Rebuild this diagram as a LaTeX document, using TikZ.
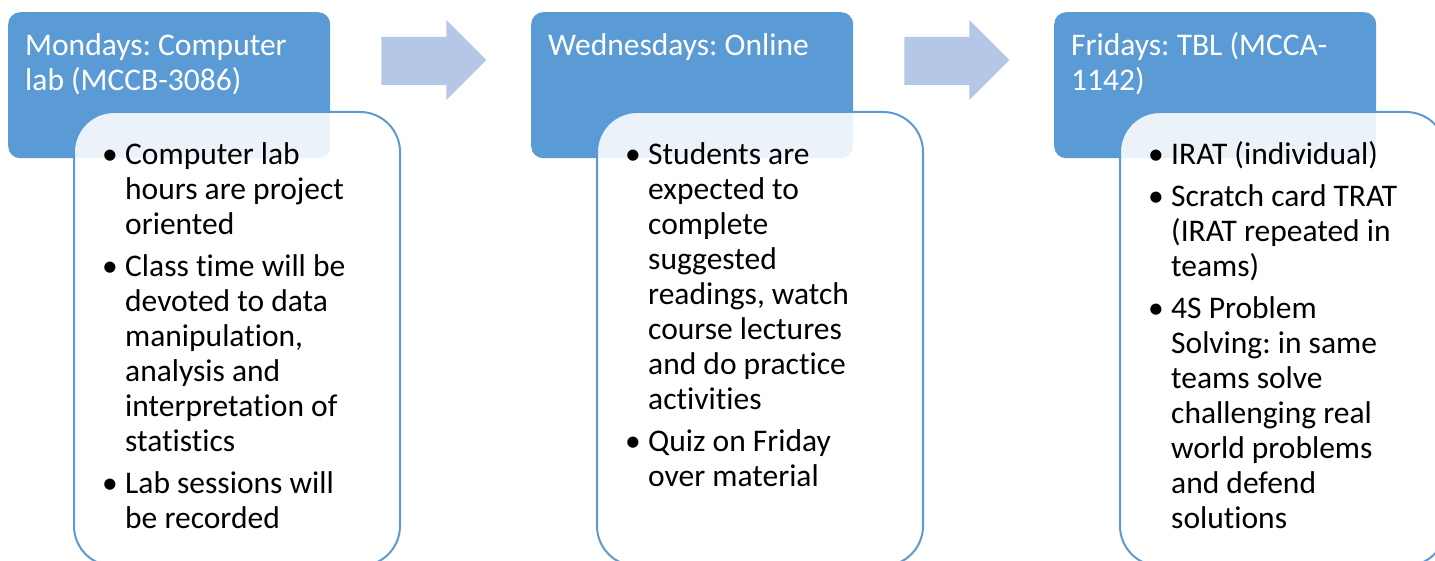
\documentclass[tikz,border=0pt]{standalone}
\usepackage{fontspec}
\setmainfont[Ligatures=NoCommon]{Carlito}
\usetikzlibrary{positioning}
\definecolor{dayblue}{HTML}{5B9BD5}
\definecolor{flowblue}{HTML}{B4C7E7}
\frenchspacing

\begin{document}
\begin{tikzpicture}[x=1pt,y=-1pt]
	\tikzstyle{daybox} = [fill=dayblue, rounded corners=12pt, minimum width=322pt, minimum height=146pt, anchor=north west, inner sep=0pt]
	\tikzstyle{notebox} = [draw=dayblue, line width=2pt, fill=white, fill opacity=0.88, rounded corners=40pt, minimum width=326pt, minimum height=454pt, anchor=north west, inner sep=0pt]
	\tikzstyle{daytext} = [text=white, anchor=north west, inner sep=0pt, font=\fontsize{31.5}{35}\selectfont]
	\tikzstyle{notetext} = [anchor=north west, inner sep=0pt, font=\fontsize{31.5}{35}\selectfont]
	\tikzstyle{flow} = [fill=flowblue]
	\useasboundingbox (0,0) rectangle (1435,561);
	\clip (0,0) rectangle (1435,561);
	% Mondays
	\node[daybox] (mon) at (8,12) {};
	\node[notebox] (monN) at (73,111) {};
	\node[daytext] (monT) at ([xshift=17pt,yshift=-19pt]mon.north west) {\begin{tabular}[t]{@{}l@{}}Mondays: Computer\\ lab (MCCB-3086)\end{tabular}};
	\node[notetext] (monL) at ([xshift=29pt,yshift=-29pt]monN.north west) {\begin{tabular}[t]{@{}p{23pt}@{}l@{}}
	\textbullet & Computer lab\\ & hours are project\\ & oriented\\[7pt]
	\textbullet & Class time will be\\ & devoted to data\\ & manipulation,\\ & analysis and\\ & interpretation of\\ & statistics\\[7pt]
	\textbullet & Lab sessions will\\ & be recorded
	\end{tabular}};
	% Wednesdays
	\node[daybox] (wed) at (531,12) {};
	\node[notebox] (wedN) at (596,111) {};
	\node[daytext] (wedT) at ([xshift=17pt,yshift=-19pt]wed.north west) {\begin{tabular}[t]{@{}l@{}}Wednesdays: Online\end{tabular}};
	\node[notetext] (wedL) at ([xshift=29pt,yshift=-29pt]wedN.north west) {\begin{tabular}[t]{@{}p{23pt}@{}l@{}}
	\textbullet & Students are\\ & expected to\\ & complete\\ & suggested\\ & readings, watch\\ & course lectures\\ & and do practice\\ & activities\\[7pt]
	\textbullet & Quiz on Friday\\ & over material
	\end{tabular}};
	% Fridays
	\node[daybox] (fri) at (1054,12) {};
	\node[notebox] (friN) at (1119,111) {};
	\node[daytext] (friT) at ([xshift=17pt,yshift=-19pt]fri.north west) {\begin{tabular}[t]{@{}l@{}}Fridays: TBL (MCCA-\\ 1142)\end{tabular}};
	\node[notetext] (friL) at ([xshift=29pt,yshift=-29pt]friN.north west) {\begin{tabular}[t]{@{}p{23pt}@{}l@{}}
	\textbullet & IRAT (individual)\\[7pt]
	\textbullet & Scratch card TRAT\\ & (IRAT repeated in\\ & teams)\\[7pt]
	\textbullet & 4S Problem\\ & Solving: in same\\ & teams solve\\ & challenging real\\ & world problems\\ & and defend\\ & solutions
	\end{tabular}};
	% block arrows between the days
	\foreach \a in {mon,wed} {
		\begin{scope}[shift={(\a.north east)}]
			\fill[flow] (51,25) -- (116,25) -- (116,8) -- (156,48) -- (116,88) -- (116,73) -- (51,73) -- cycle;
		\end{scope}
	}
\end{tikzpicture}
\end{document}
